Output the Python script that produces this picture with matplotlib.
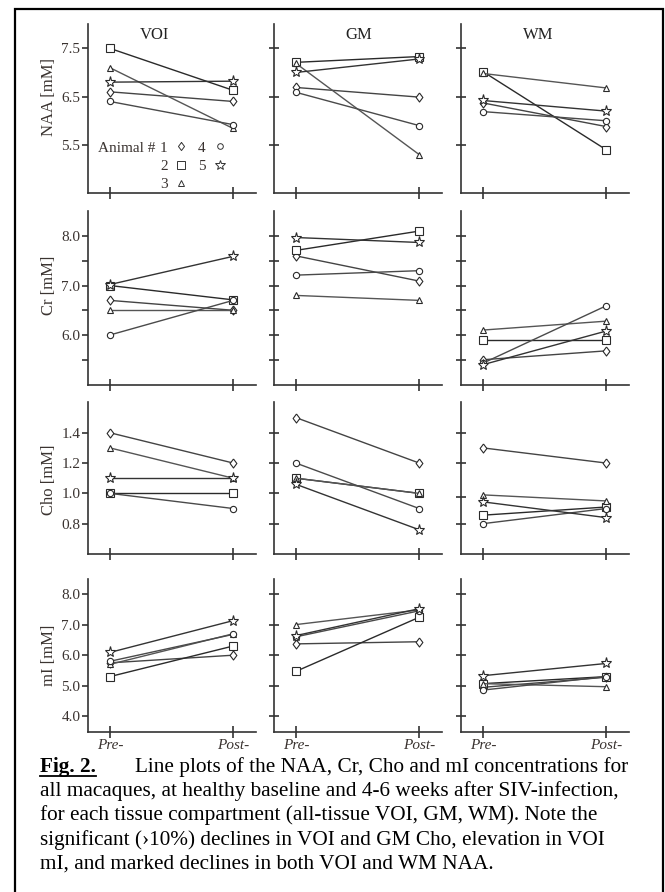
import matplotlib
matplotlib.use('Agg')
import matplotlib.pyplot as plt
from matplotlib.lines import Line2D
from matplotlib.patches import Rectangle

plt.rcParams['font.family'] = ['Liberation Serif', 'DejaVu Sans']

W, H = 665, 892

regions = ['VOI', 'GM', 'WM']
metabolites = ['NAA', 'Cr', 'Cho', 'mI']
ylabels = ['NAA [mM]', 'Cr [mM]', 'Cho [mM]', 'mI [mM]']
timepoints = ['Pre-', 'Post-']
animals = ['1', '2', '3', '4', '5']

# values per animal 1..5, (pre, post)
naa_voi_pre = [6.6, 7.5, 7.1, 6.4, 6.8]
naa_voi_post = [6.4, 6.63, 5.84, 5.92, 6.82]
naa_gm_pre = [6.69, 7.21, 7.19, 6.59, 7.0]
naa_gm_post = [6.49, 7.33, 5.3, 5.9, 7.28]
naa_wm_pre = [6.37, 7.02, 6.98, 6.19, 6.42]
naa_wm_post = [5.88, 5.4, 6.68, 6.0, 6.2]

cr_voi_pre = [6.7, 7.0, 6.5, 6.0, 7.02]
cr_voi_post = [6.5, 6.71, 6.5, 6.7, 7.59]
cr_gm_pre = [7.6, 7.71, 6.8, 7.21, 7.97]
cr_gm_post = [7.09, 8.1, 6.7, 7.3, 7.87]
cr_wm_pre = [5.5, 5.9, 6.1, 5.43, 5.4]
cr_wm_post = [5.68, 5.9, 6.28, 6.59, 6.08]

cho_voi_pre = [1.4, 1.0, 1.3, 1.0, 1.1]
cho_voi_post = [1.2, 1.0, 1.1, 0.9, 1.1]
cho_gm_pre = [1.5, 1.1, 1.1, 1.2, 1.06]
cho_gm_post = [1.2, 1.0, 1.0, 0.9, 0.76]
cho_wm_pre = [1.3, 0.856, 0.99, 0.8, 0.944]
cho_wm_post = [1.2, 0.91, 0.95, 0.9, 0.84]

mi_voi_pre = [5.75, 5.3, 5.7, 5.8, 6.09]
mi_voi_post = [6.0, 6.3, 6.7, 6.68, 7.13]
mi_gm_pre = [6.37, 5.47, 7.0, 6.6, 6.64]
mi_gm_post = [6.44, 7.24, 7.48, 7.45, 7.52]
mi_wm_pre = [4.95, 5.07, 5.07, 4.86, 5.33]
mi_wm_post = [5.28, 5.3, 4.97, 5.3, 5.73]

data = {
    'NAA': [(naa_voi_pre, naa_voi_post), (naa_gm_pre, naa_gm_post), (naa_wm_pre, naa_wm_post)],
    'Cr': [(cr_voi_pre, cr_voi_post), (cr_gm_pre, cr_gm_post), (cr_wm_pre, cr_wm_post)],
    'Cho': [(cho_voi_pre, cho_voi_post), (cho_gm_pre, cho_gm_post), (cho_wm_pre, cho_wm_post)],
    'mI': [(mi_voi_pre, mi_voi_post), (mi_gm_pre, mi_gm_post), (mi_wm_pre, mi_wm_post)],
}

yticks = {'NAA': [5.5, 6.5, 7.5], 'Cr': [6.0, 7.0, 8.0], 'Cho': [0.8, 1.0, 1.2, 1.4],
          'mI': [4.0, 5.0, 6.0, 7.0, 8.0]}
yminor = {'Cr': [5.5, 6.5, 7.5]}
ylims = {'NAA': (4.5, 8.0), 'Cr': (5.0, 8.5), 'Cho': (0.6, 1.6), 'mI': (3.5, 8.5)}

# slightly narrow open diamond, like the printed glyph
diamond = [(0, 1), (0.75, 0), (0, -1), (-0.75, 0), (0, 1)]
markers = [diamond, 's', '^', 'o', '*']
msizes = [6.5, 6, 4.5, 4.5, 8]
lcolors = ['#444444', '#2a2a2a', '#555555', '#4a4a4a', '#333333']

caption_lines = [
    'all macaques, at healthy baseline and 4-6 weeks after SIV-infection,',
    'for each tissue compartment (all-tissue VOI, GM, WM). Note the',
    'significant (\u203a10%) declines in VOI and GM Cho, elevation in VOI',
    'mI, and marked declines in both VOI and WM NAA.',
]


def fx(px):
    return px / W


def fy(py):
    return 1 - py / H


fig = plt.figure(figsize=(W / 100, H / 100), dpi=100)

col_left = [88, 274, 461]
col_w = 168
row_tb = [(24.2, 193.2), (211.3, 384.5), (402.4, 554.0), (578.7, 731.7)]
ylabel_y = [97, 285, 480, 655]
axc = '#333333'
tc = '#3a3330'

x = [0, 1]
axes = {}
for r, met in enumerate(metabolites):
    top, bot = row_tb[r]
    for c, reg in enumerate(regions):
        ax = fig.add_axes([fx(col_left[c]), fy(bot), col_w / W, (bot - top) / H])
        axes[(met, reg)] = ax
        pre, post = data[met][c]
        for i in range(len(animals)):
            ax.plot(x, [pre[i], post[i]], color=lcolors[i], lw=1.0, marker=markers[i],
                    ms=msizes[i], mfc='white', mec='#2a2a2a', mew=0.8, zorder=3)
        ax.set_xlim(-0.177, 1.185)
        ax.set_ylim(*ylims[met])
        for s in ['top', 'right']:
            ax.spines[s].set_visible(False)
        for s in ['left', 'bottom']:
            ax.spines[s].set_color(axc)
            ax.spines[s].set_linewidth(1.2)
        ax.set_xticks(x)
        if r == len(metabolites) - 1:
            ax.set_xticklabels(timepoints, fontstyle='italic', fontsize=11, color=tc)
        else:
            ax.set_xticklabels([])
        ax.tick_params(axis='x', direction='inout', length=8, width=1.2, color=axc, pad=1)
        ticks = yticks[met]
        if met == 'Cho' and reg == 'WM':
            ticks = [0.8, 0.975, 1.2, 1.4]
        ax.set_yticks(ticks)
        if met in yminor:
            ax.set_yticks(yminor[met], minor=True)
        if c == 0:
            ax.set_yticklabels(['%.1f' % t for t in ticks], fontsize=11, color=tc)
            ax.tick_params(axis='y', which='both', direction='out', length=4.5, width=1.2,
                           color=axc, pad=1)
        else:
            ax.set_yticklabels([])
            ax.tick_params(axis='y', which='both', direction='inout', length=7.5, width=1.2,
                           color=axc)
    fig.text(fx(49), fy(ylabel_y[r]), ylabels[r], rotation=90, ha='center', va='center',
             fontsize=12, color=tc)

for c, reg in enumerate(regions):
    fig.text(fx([155, 359, 538][c]), fy(39), reg, ha='center', va='baseline', fontsize=12,
             color='#222222')

# legend in the NAA / VOI panel
ax0 = axes[('NAA', 'VOI')]
handles = [Line2D([], [], linestyle='none', marker=markers[i], ms=msizes[i] * 0.9, mfc='white',
                  mec='#333333', mew=0.7) for i in range(len(animals))]
ax0.legend(handles, animals, ncol=2, markerfirst=False, frameon=False, loc='upper left',
           bbox_to_anchor=(fx(160), fy(141)), bbox_transform=fig.transFigure, fontsize=11,
           handlelength=1.0, handletextpad=0.4, columnspacing=0.6, labelspacing=0.3,
           borderpad=0, borderaxespad=0, labelcolor=tc)
fig.text(fx(98), fy(152), 'Animal #', ha='left', va='baseline', fontsize=11, color=tc)

# caption
fs = 15.3
t_fig = fig.text(fx(40), fy(772), 'Fig. 2.', ha='left', va='baseline', fontsize=fs,
                 fontweight='bold', color='black')
fig.text(fx(135), fy(772), 'Line plots of the NAA, Cr, Cho and mI concentrations for',
         ha='left', va='baseline', fontsize=fs, color='black')
for k, line in enumerate(caption_lines):
    fig.text(fx(40), fy(796 + 24.3 * k), line, ha='left', va='baseline', fontsize=fs,
             color='black')

fig.canvas.draw()
bb = t_fig.get_window_extent()
fig.add_artist(Line2D([bb.x0 / W, bb.x1 / W], [fy(775.5), fy(775.5)], color='black', lw=1.3,
                      transform=fig.transFigure))

# outer frame
fig.add_artist(Rectangle((fx(15), fy(H + 5)), fx(663) - fx(15), fy(9) - fy(H + 5),
                         transform=fig.transFigure, fill=False, lw=1.6, ec='black'))

fig.savefig('out.png', dpi=100)
